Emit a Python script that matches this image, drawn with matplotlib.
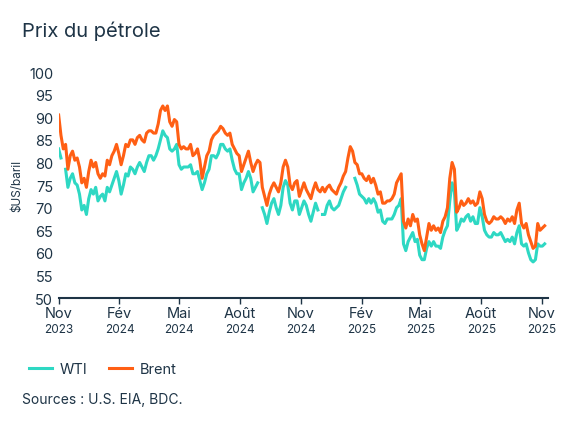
import numpy as np
import pandas as pd
import matplotlib
matplotlib.use("Agg")
import matplotlib.pyplot as plt
import matplotlib.dates as mdates
import matplotlib.transforms as mtransforms

plt.rcParams['font.family'] = ['Inter', 'DejaVu Sans']

# points tous les 3,5 jours depuis le 1er nov. 2023 (8 points = 4 semaines par ligne)
dates = pd.date_range("2023-11-01", periods=211, freq="84h")
nan = np.nan

brent = [
    90.5, 86.0, 83.0, 84.0, 78.5, 81.5, 82.5, 80.5,
    81.0, 79.0, 75.5, 76.5, 74.5, 78.0, 80.5, 79.0,
    80.0, 77.5, 76.5, 77.5, 77.0, 80.5, 79.5, 81.5,
    82.5, 84.0, 82.0, 79.5, 81.5, 84.0, 83.5, 85.0,
    85.0, 84.0, 85.5, 86.0, 85.0, 84.5, 86.5, 87.0,
    87.0, 86.5, 86.5, 88.5, 91.5, 92.5, 91.5, 92.5,
    89.0, 88.0, 89.5, 89.0, 84.0, 83.0, 83.5, 83.0,
    83.0, 84.0, 81.5, 82.0, 83.0, 80.5, 76.5, 79.0,
    81.5, 82.5, 85.0, 86.0, 86.5, 87.0, 88.0, 87.5,
    86.5, 86.0, 86.5, 84.0, 83.0, 82.0, 81.5, 78.0,
    79.5, 81.0, 82.5, 80.0, 78.0, 79.5, 80.5, 80.0,
    74.5, 72.5, 70.5, 73.0, 74.5, 75.5, 74.5, 73.5,
    75.5, 79.0, 80.5, 79.0, 75.0, 74.0, 75.5, 76.0,
    72.5, 74.0, 75.5, 74.0, 73.0, 72.0, 74.0, 75.5,
    74.0, 73.5, 74.5, 73.5, 74.5, 75.0, 74.0, 73.5,
    73.0, 74.5, 75.5, 77.0, 78.0, 81.0, 83.5, 82.5,
    80.0, 79.5, 77.5, 77.5, 76.5, 76.0, 77.0, 75.5,
    76.5, 75.0, 73.0, 73.5, 71.0, 71.0, 71.5, 71.5,
    72.0, 73.0, 75.5, 76.5, 77.5, 67.0, 65.5, 67.5,
    66.0, 68.5, 67.0, 67.5, 64.0, 62.0, 60.5, 63.5,
    66.5, 65.0, 66.0, 65.0, 65.5, 64.5, 67.0, 68.0,
    70.0, 76.5, 80.0, 78.5, 69.0, 70.0, 71.5, 70.5,
    71.0, 72.0, 71.0, 71.5, 70.5, 71.0, 73.5, 72.0,
    68.5, 67.0, 66.5, 67.0, 68.0, 67.5, 67.5, 68.0,
    67.5, 66.5, 67.5, 67.0, 68.0, 66.5, 69.5, 71.0,
    66.5, 65.5, 66.5, 64.0, 62.5, 61.0, 61.5, 66.5,
    65.0, 65.5, 66.0,
]

wti = [
    83.0, 81.0, nan, 78.5, 74.5, 76.5, 77.5, 75.5,
    75.0, 73.0, 69.5, 70.5, 68.5, 72.0, 74.0, 73.0,
    74.5, 71.5, 72.5, 73.0, 71.5, 74.5, 73.5, 75.0,
    76.5, 78.0, 76.0, 73.0, 75.0, 77.5, 77.0, 79.0,
    78.5, 77.5, 79.0, 80.0, 79.0, 78.0, 80.0, 81.5,
    81.5, 80.5, 81.5, 83.0, 85.0, 87.0, 86.0, 85.5,
    83.0, 82.5, 83.0, 84.0, 79.5, 78.5, 79.0, 79.0,
    79.0, 79.5, 77.5, 77.5, 78.0, 76.0, 74.0, 75.5,
    77.5, 78.5, 81.5, 81.5, 81.0, 82.0, 84.0, 84.0,
    83.0, 82.5, 83.0, 80.5, 78.5, 77.5, 77.5, 74.0,
    75.5, 76.5, 78.0, 76.5, 73.5, 74.5, 75.5, nan,
    70.0, 68.5, 66.5, 69.0, 71.0, 72.0, 70.0, 68.5,
    70.5, 74.5, 76.0, 75.0, 71.0, 69.5, 71.5, 71.5,
    68.5, 70.0, 71.5, 70.5, 68.5, 67.0, 69.0, 71.0,
    69.5, nan, 68.5, 68.5, 70.5, 71.5, 70.0, 69.5,
    70.0, 70.5, 72.0, 73.5, 74.5, nan, nan, nan,
    76.5, 75.0, 73.0, 72.5, 72.0, 71.0, 72.0, 71.0,
    72.0, 71.0, 69.0, 69.5, 67.0, 66.5, 67.5, 67.5,
    67.5, 68.5, 70.0, 70.5, 72.0, 62.0, 60.5, 62.5,
    63.5, 64.5, 62.5, 63.0, 59.5, 58.5, 58.5, 61.0,
    62.5, 61.5, 62.5, 61.5, 61.5, 61.0, 63.5, 65.0,
    66.0, 71.5, 75.5, 73.5, 65.0, 66.0, 67.5, 67.0,
    68.0, 68.5, 67.0, 68.0, 66.5, 66.5, 70.0, 68.0,
    65.0, 64.0, 63.5, 63.5, 64.5, 64.0, 64.0, 64.5,
    63.5, 62.5, 63.0, 62.5, 63.5, 62.0, 64.5, 66.0,
    62.0, 61.5, 62.0, 60.0, 58.5, 58.0, 58.5, 62.0,
    61.5, 61.5, 62.0,
]

tick_dates = pd.date_range("2023-11-01", "2025-11-01", freq="3MS")
mois = ["Nov", "Fév", "Mai", "Août", "Nov", "Fév", "Mai", "Août", "Nov"]
annees = ["2023", "2024", "2024", "2024", "2024", "2025", "2025", "2025", "2025"]

c_wti = "#2ED8C3"
c_brent = "#FF5F14"
c_txt = "#1E3446"

fig = plt.figure(figsize=(5.75, 4.31), dpi=100)
ax = fig.add_axes([0.102, 0.306, 0.851, 0.5245])

ax.plot(dates, wti, color=c_wti, lw=2.2, label="WTI")
ax.plot(dates, brent, color=c_brent, lw=2.2, label="Brent")

ax.set_ylim(50, 100)
ax.set_yticks(range(50, 101, 5))
ax.set_xlim(pd.Timestamp("2023-11-01"), pd.Timestamp("2025-11-10"))
ax.set_xticks(tick_dates)
ax.set_xticklabels(mois, fontsize=10.5, color=c_txt)
ax.tick_params(axis="x", length=4, width=1, color=c_txt, pad=2)
ax.tick_params(axis="y", length=0, labelsize=10.5, labelcolor=c_txt, pad=4)

trans = mtransforms.blended_transform_factory(ax.transData, ax.transAxes)
for d, a in zip(tick_dates, annees):
    ax.text(d, -0.11, a, transform=trans, ha="center", va="top",
            fontsize=8.5, color=c_txt)

for s in ["top", "right", "left"]:
    ax.spines[s].set_visible(False)
ax.spines["bottom"].set_color(c_txt)
ax.spines["bottom"].set_linewidth(1.5)

ax.set_ylabel(r"\$US/baril", fontsize=8.5, color=c_txt, labelpad=4)

fig.text(0.038, 0.915, "Prix du pétrole", fontsize=14.5, color=c_txt, ha="left", va="baseline")

fig.legend(loc="lower left", bbox_to_anchor=(0.027, 0.095), ncol=2, frameon=False,
           fontsize=10.5, handlelength=1.6, handletextpad=0.5, columnspacing=1.5,
           labelcolor=c_txt)

fig.text(0.038, 0.063, "Sources : U.S. EIA, BDC.", fontsize=10, color=c_txt,
         ha="left", va="baseline")

fig.savefig("out.png", dpi=100)
